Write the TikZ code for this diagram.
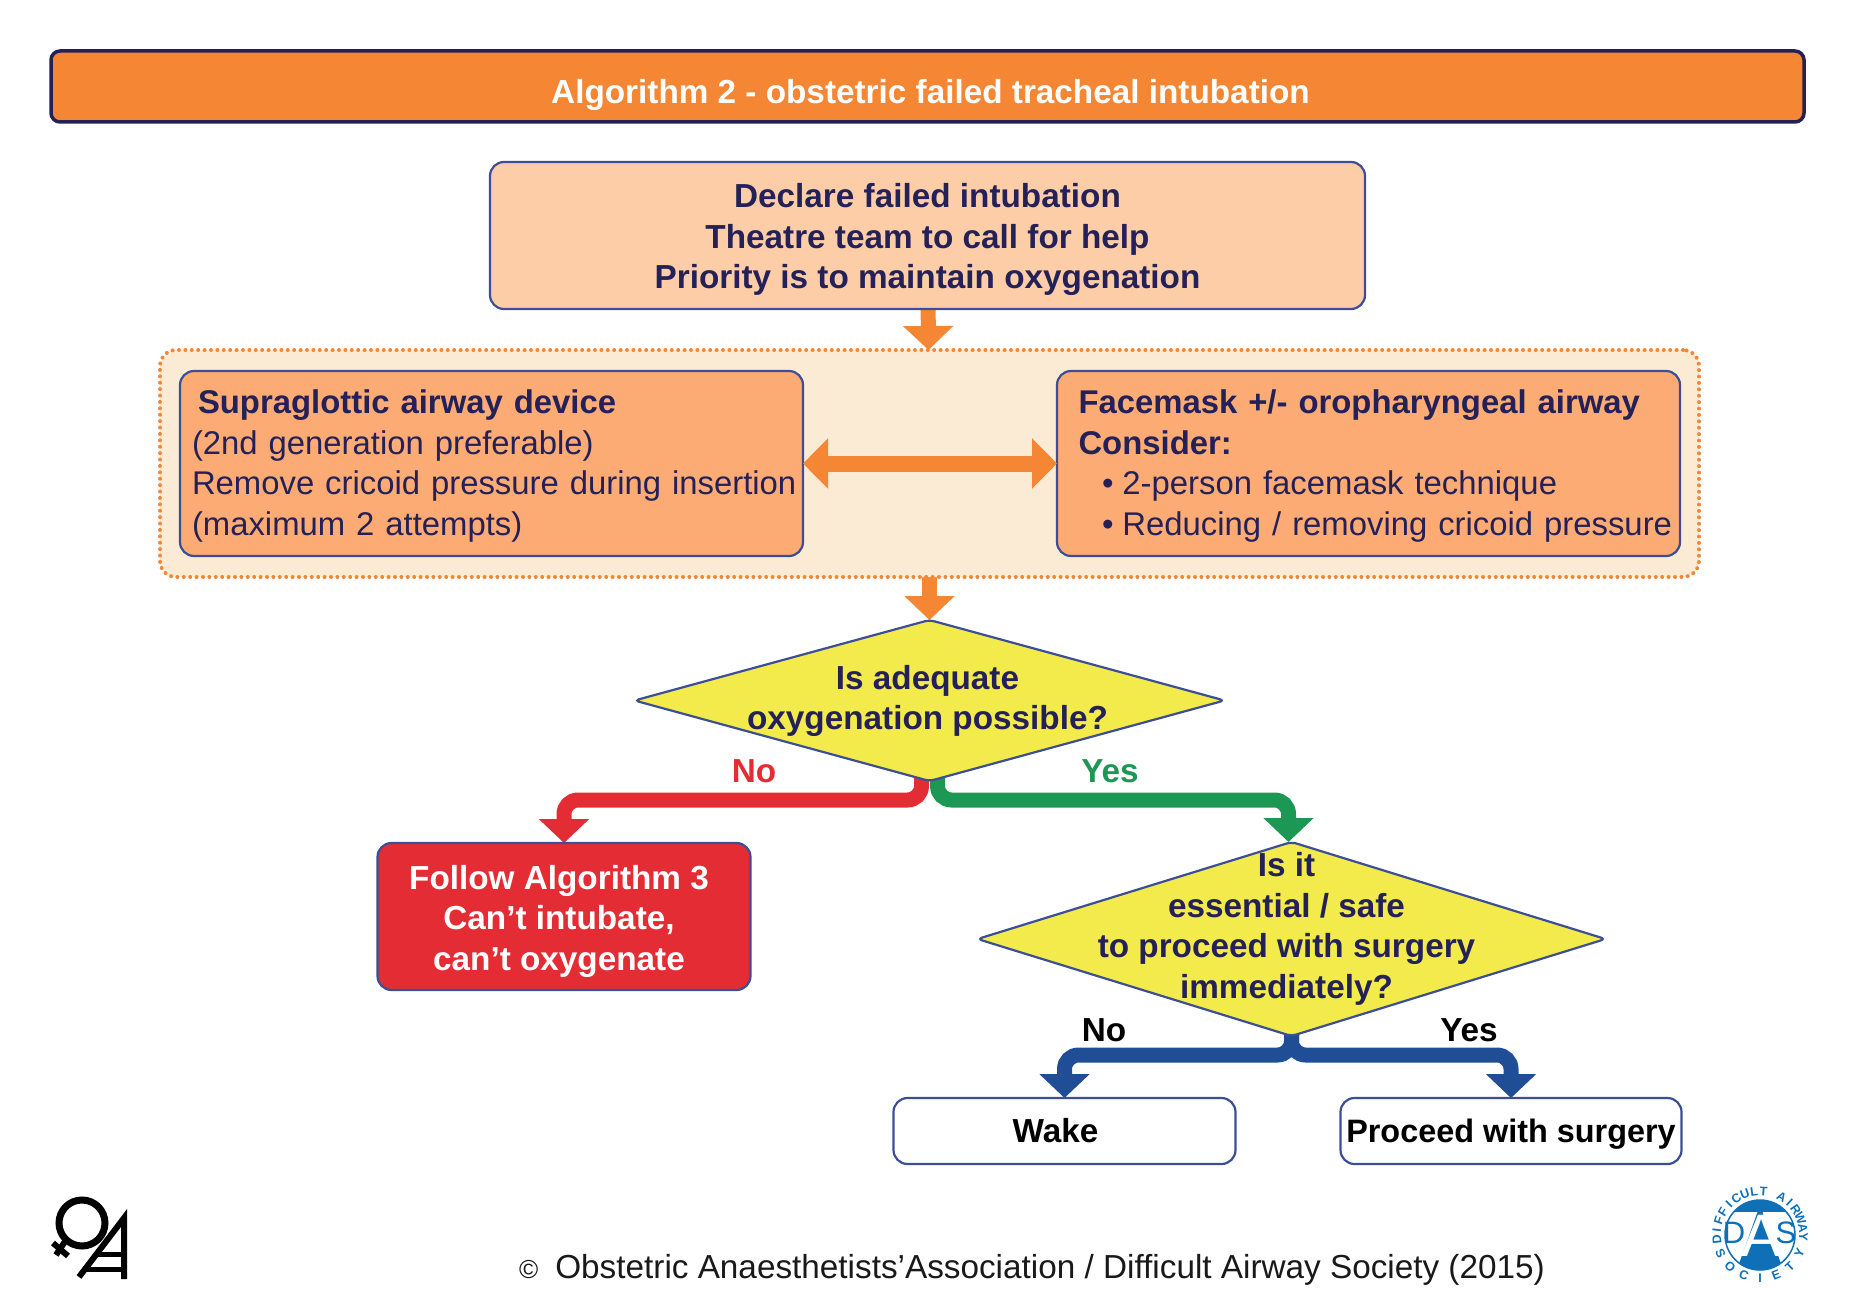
\documentclass[tikz,border=0pt]{standalone}
\usepackage{fontspec}
\setmainfont{Liberation Sans}
\usetikzlibrary{positioning,shapes.geometric,arrows.meta,backgrounds}
\definecolor{navy}{HTML}{232157}
\definecolor{edgeblue}{HTML}{3C4F96}
\definecolor{barorange}{HTML}{F58634}
\definecolor{paleorange}{HTML}{FDCDA8}
\definecolor{midorange}{HTML}{FDAB74}
\definecolor{cream}{HTML}{FCEBD4}
\definecolor{flowred}{HTML}{E42C35}
\definecolor{flowgreen}{HTML}{1D9754}
\definecolor{flowblue}{HTML}{1F4E96}
\definecolor{dyellow}{HTML}{F3EA4C}
\definecolor{dasblue}{HTML}{0F70B7}
\newcommand{\mainsize}{\fontsize{33.3}{40.5}\selectfont}
\newcommand{\toprule}[1]{\rule{0pt}{#1}}

\begin{document}
\begin{tikzpicture}[x=1pt, y=1pt,
  nodes={outer sep=0pt, font=\mainsize},
  panelbox/.style = {draw=edgeblue, line width=2.2pt, rounded corners=14pt,
    inner sep=0pt, align=center},
  sidebox/.style = {panelbox, fill=midorange, minimum width=623pt,
    minimum height=185pt, text width=618pt, align=left, text=navy,
    font=\fontsize{32.85}{40.5}\selectfont},
  endbox/.style = {panelbox, fill=white, minimum height=66pt,
    text height=22pt, text depth=0pt, font=\mainsize\bfseries},
  choice/.style = {diamond, draw=edgeblue, line width=2.2pt, fill=dyellow,
    inner sep=0pt, rounded corners=5pt},
  choicetext/.style = {font=\mainsize\bfseries, text=navy, align=center},
  lab/.style = {font=\mainsize\bfseries},
  dasletter/.style = {text=dasblue, inner sep=0pt},
  arr/.style = {line width=15pt, rounded corners=14pt,
    -{Triangle[width=49pt,length=24pt]}},
  twoway/.style = {line width=16pt,
    {Triangle[width=49pt,length=25pt]}-{Triangle[width=49pt,length=25pt]}}
  ]
  \useasboundingbox (0,0) rectangle (1855,-1311);

  \node (title) [draw=navy, line width=3.5pt, fill=barorange, rounded corners=9pt,
    minimum width=1753pt, minimum height=71pt, inner sep=0pt, text=white, font=\mainsize\bfseries]
    at (927.5,-86.5) {\toprule{41pt}\hspace*{6pt}Algorithm 2 - obstetric failed tracheal intubation};
  \node (declare) [panelbox, fill=paleorange, minimum width=875pt, minimum height=147pt,
    text=navy, font=\mainsize\bfseries, below=40pt of title]
    {\toprule{33pt}Declare failed intubation\\Theatre team to call for help\\Priority is to maintain oxygenation};
  \node (panel) [draw=barorange, line width=4pt, line cap=round, dash pattern=on 0pt off 6.4pt,
    fill=cream, rounded corners=16pt, minimum width=1539pt, minimum height=227pt,
    below=41pt of declare, xshift=2pt] {};
  \node (sad) [sidebox, below right=21pt and 20pt of panel.north west]
    {\toprule{29pt}\hspace*{15.5pt}\textbf{Supraglottic airway device}\\
     \hspace*{9.5pt}(2nd generation preferable)\\
     \hspace*{9.5pt}\mbox{Remove cricoid pressure during insertion}\\
     \hspace*{9.5pt}(maximum 2 attempts)};
  \node (mask) [sidebox, below left=21pt and 19pt of panel.north east]
    {\toprule{29pt}\hspace*{19pt}\textbf{Facemask +/- oropharyngeal airway}\\
     \hspace*{19pt}\textbf{Consider:}\\
     \hspace*{42.5pt}•\hspace{9pt}2-person facemask technique\\
     \hspace*{42.5pt}•\hspace{9pt}\mbox{Reducing / removing cricoid pressure}};

  \node (adequate) [choice, minimum width=590pt, minimum height=161pt,
    below=43pt of panel,
    label={[choicetext, xshift=-2pt, yshift=-0.5pt]center:Is adequate\\oxygenation possible?}] {};
  \node (alg3) [panelbox, fill=flowred, minimum width=373pt, minimum height=147pt,
    text=white, font=\mainsize\bfseries, below=62pt of adequate, xshift=-365.5pt]
    {\toprule{33.5pt}\mbox{Follow Algorithm 3\hspace{10pt}}\\\mbox{Can’t intubate,\hspace{10pt}}\\\mbox{can’t oxygenate\hspace{10pt}}};
  \node (surgery) [choice, minimum width=628pt, minimum height=194pt,
    below=61pt of adequate, xshift=362pt,
    label={[choicetext, xshift=-5pt, yshift=10pt]center:Is it\\essential / safe\\to proceed with surgery\\immediately?}] {};
  \node (wake) [endbox, minimum width=342pt, below=62pt of surgery, xshift=-227pt]
    {Wake\hspace*{18pt}};
  \node (proceed) [endbox, minimum width=341pt, below=62pt of surgery, xshift=219.5pt,
    font=\fontsize{32.4}{40}\bfseries\selectfont]
    {Proceed with surgery};

  \node (no-oxy) [lab, text=flowred] at (754,-771) {No};
  \node (yes-oxy) [lab, text=flowgreen] at (1110,-771) {Yes};
  \node (no-surg) [lab] at (1104,-1030) {No};
  \node (yes-surg) [lab] at (1469,-1030) {Yes};

  \begin{scope}[on background layer]
    \draw[arr, barorange] (declare) -- (panel);
    \draw[arr, barorange] (panel) -- (adequate);
    \draw[arr, flowred] ([xshift=-8pt,yshift=5pt]adequate.south) -- ++(0,-24) -| (alg3.north);
    \draw[arr, flowgreen] ([xshift=8pt,yshift=5pt]adequate.south) -- ++(0,-24) -| ([xshift=-3pt]surgery.north);
    \draw[arr, flowblue] ([yshift=5pt]surgery.south) -- ++(0,-24) -| (wake.north);
    \draw[arr, flowblue] ([yshift=5pt]surgery.south) -- ++(0,-24) -| (proceed.north);
  \end{scope}
  \draw[twoway, barorange] (sad) -- (mask);

  \node (copy) [text=black!90] at (1032,-1270)
    {{\fontsize{26}{26}\selectfont ©}\hspace{17pt}Obstetric Anaesthetists’Association / Difficult Airway Society (2015)};

  % OAA logo
  \draw[line width=7pt] (82,-1223) circle (23);
  \draw[line width=6pt] (66,-1240) -- (56,-1255);
  \draw[line width=6pt] (53,-1243) -- (68,-1256);
  \draw[line width=6pt] (79,-1277) -- (124,-1218) -- (124,-1279);
  \draw[line width=5pt] (97,-1254) -- (124,-1254);
  \draw[line width=5pt] (86,-1269) -- (124,-1269);

  % DAS logo
  \begin{scope}
    \clip (1760,-1235) circle (35);
    \fill[dasblue] (1720,-1190) rectangle (1800,-1212);
    \fill[dasblue] (1760,-1205) -- (1785,-1275) -- (1735,-1275) -- cycle;
  \end{scope}
  \draw[dasblue, line width=1.5pt] (1760,-1235) circle (35);
  \node (das-a) [inner sep=0pt, text=white, font=\fontsize{60}{60}\selectfont] at (1761,-1236) {A};
  \node (das-d) [dasletter, font=\fontsize{31}{31}\selectfont] at (1734,-1233) {D};
  \node (das-s) [dasletter, font=\fontsize{31}{31}\selectfont] at (1786,-1233) {S};
  \foreach \ch [count=\i] in {D,I,F,F,I,C,U,L,T,{},A,I,R,W,A,Y} {
    \pgfmathsetmacro{\ang}{186-(\i-1)*12.6}
    \node (das-top-\i) [dasletter, rotate=\ang-90, font=\fontsize{12.5}{12.5}\bfseries\selectfont]
      at ([shift={(\ang:43.5)}]1760,-1235) {\ch};
  }
  \foreach \ch [count=\i] in {S,O,C,I,E,T,Y} {
    \pgfmathsetmacro{\ang}{205+(\i-1)*21.7}
    \node (das-low-\i) [dasletter, rotate=\ang+90, font=\fontsize{12.5}{12.5}\bfseries\selectfont]
      at ([shift={(\ang:43.5)}]1760,-1235) {\ch};
  }
\end{tikzpicture}
\end{document}
